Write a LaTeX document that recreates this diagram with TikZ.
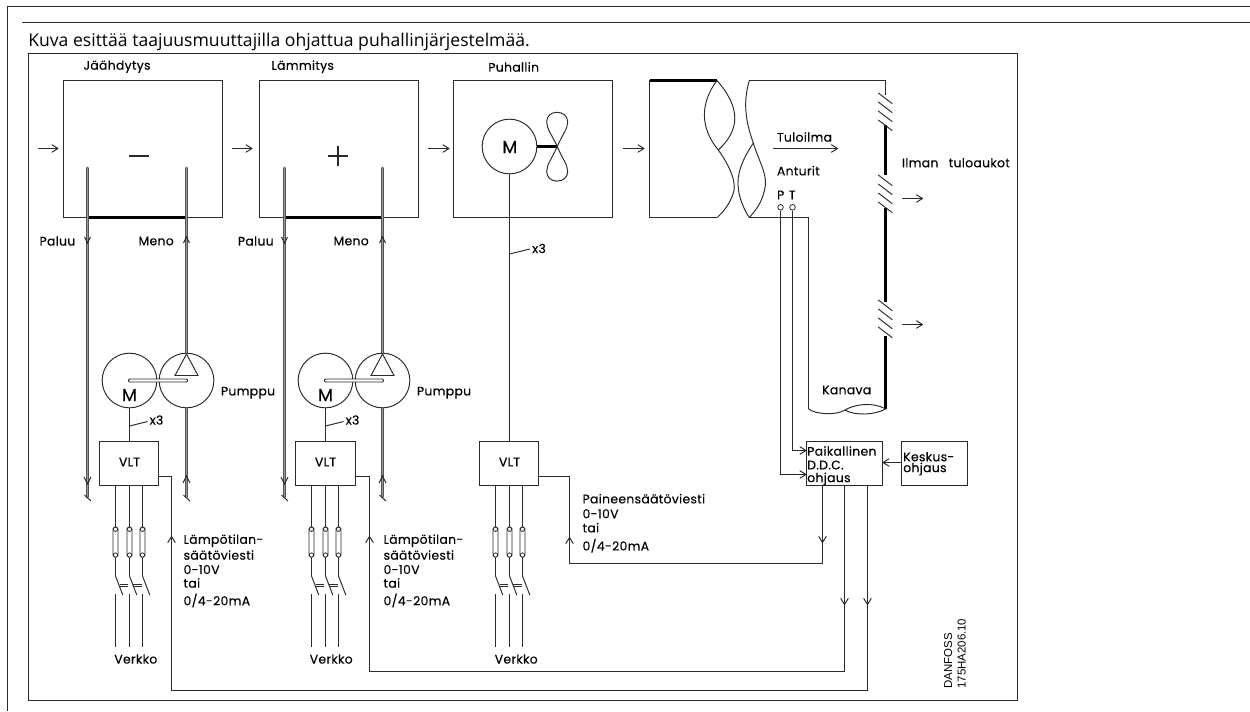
\documentclass[tikz,border=0pt]{standalone}
\usepackage{fontspec}
\setmainfont[FakeBold=0.25,LetterSpace=2.5]{Poppins}
\newfontfamily\titlefont{Open Sans}
\newfontfamily\markfont{Liberation Sans}
\usetikzlibrary{arrows.meta,calc}
\definecolor{ink}{HTML}{2A2A2A}
\tikzset{
  x=0.75pt,y=-0.75pt,
  ln/.style={draw=ink,line width=0.72pt},
  thin line/.style={draw=ink,line width=0.6pt},
  heavy/.style={draw=black,line width=1.6pt},
  pipe/.style={draw=black!68,double=black!40,double distance=0.75pt,line width=0.72pt,line cap=round},
  arr/.style={ln,-{Straight Barb[length=4.5pt,width=5.5pt,round]}},
  box/.style n args={2}{draw=ink,line width=0.72pt,fill=white,inner sep=0pt,minimum width=#1*0.75pt,minimum height=#2*0.75pt,outer sep=0pt},
  txt/.style={inner sep=0pt,font=\fontsize{9.3pt}{10pt}\selectfont,anchor=west},
  ctxt/.style={inner sep=0pt,font=\fontsize{9.3pt}{10pt}\selectfont},
  bigM/.style={inner sep=0pt,font=\fontsize{13pt}{13pt}\selectfont},
  motor/.style={circle,draw=ink,line width=0.72pt,inner sep=0pt,minimum size=41pt},
  sens/.style={circle,draw=ink,line width=0.6pt,fill=white,inner sep=0pt,minimum size=4.2pt},
}
\begin{document}
\begin{tikzpicture}
\useasboundingbox (0,0) rectangle (1250,711);
% page rules
\coordinate (pgTL) at (7.5,6.5); \coordinate (pgTR) at (1250,6.5); \coordinate (pgBL) at (7.5,711);
\coordinate (ruleL) at (22,22.5); \coordinate (ruleR) at (1250,22.5);
\draw[ln] (pgBL) -- (pgTL) -- (pgTR);
\draw[ln] (ruleL) -- (ruleR);
\node[anchor=base west,inner sep=0pt,font=\titlefont\fontsize{13.2pt}{14pt}\selectfont] (title) at (28,46.5) {Kuva esittää taajuusmuuttajilla ohjattua puhallinjärjestelmää.};
% frame
\node[box={989}{647},anchor=north west,fill=none] (frame) at (28.5,53.5) {};

% unit boxes
\node[box={159}{137},anchor=north west] (cool) at (63.5,80.5) {};
\node[box={159}{137},anchor=north west] (heat) at (259.5,80.5) {};
\node[box={159}{137},anchor=north west] (fanbox) at (453.5,80.5) {};
\node[ctxt] (tcool) at (117,66.7) {Jäähdytys};
\node[ctxt] (theat) at (302.7,66.7) {Lämmitys};
\node[ctxt] (tfan) at (513.7,67) {Puhallin};
\draw[heavy] (87.5,217.5) -- (186.5,217.5);
\draw[heavy] (284.5,217.5) -- (382.5,217.5);
% air arrows
\foreach \n/\xa/\xb in {a/38/58.5,b/231.5/252.5,c/428/449.5,d/623/644.5}{
  \coordinate (air\n s) at (\xa,148.5); \coordinate (air\n e) at (\xb,148.5);
  \draw[arr] (air\n s) -- (air\n e);
}
% minus, plus
\coordinate (minA) at (129.3,155.5); \coordinate (minB) at (149,155.5);
\draw[ln,line width=1.5pt] (minA) -- (minB);
\coordinate (plC) at (337.5,155.5);
\draw[ln,line width=1.5pt] ($(plC)+(-10,0)$) -- ($(plC)+(10,0)$) ($(plC)+(0,-10)$) -- ($(plC)+(0,10)$);

% pump groups
\foreach \g/\mx/\pmx/\plx/\ptl/\mtl/\vx/\vw in {1/129.5/186.5/87.5/39.3/138.3/99.5/59,2/325.5/382.5/284.5/237.7/333.3/295.5/60}{
    \node[motor] (mot\g) at (\mx,380.5) {};
    \node[motor] (pump\g) at (\pmx,380.5) {};
    \node[bigM] (mlab\g) at (\mx,395) {M};
    \coordinate (tri1\g) at (\pmx,354); \coordinate (tri2\g) at (\pmx-11.5,375.5); \coordinate (tri3\g) at (\pmx+11.5,375.5);
    \draw[ln] (tri1\g) -- (tri2\g) -- (tri3\g) -- cycle;
    \coordinate (shA\g) at (\mx-1,379); \coordinate (shB\g) at (\pmx+1,382);
    \draw[ln,rounded corners=0.8pt,fill=white] (shA\g) rectangle (shB\g);
    \node[box={\vw}{44},anchor=north west] (vlt\g) at (\vx,441.5) {};
    \node[ctxt] (vltl\g) at (\mx,462) {VLT};
    \draw[ln] (mot\g.south) -- (vlt\g.north-|mot\g.south);
    \coordinate (t\g) at (\mx,426); \coordinate (tt\g) at (\mx+18,421.5);
    \draw[ln] (t\g) -- (tt\g);
    \node[ctxt,anchor=west] (xt\g) at ($(tt\g)+(2,-1.5)$) {x3};
    \node[txt] (ppl\g) at (\mx+91.2,392.7) {Pumppu};
    % pipes
    \coordinate (ptop\g) at (\plx,168); \coordinate (pbot\g) at (\plx,497);
    \coordinate (mtop\g) at (\pmx,168); \coordinate (mbot\g) at (\pmx,497);
    \draw[pipe] (ptop\g) -- (pbot\g);
    \draw[pipe] (mtop\g) -- (pump\g.north);
    \draw[pipe] (pump\g.south) -- (mbot\g);
    \draw[ln] (\plx-3,237) -- (\plx,243) -- (\plx+3,237);
    \draw[ln] (\pmx-3,243) -- (\pmx,237) -- (\pmx+3,243);
    \draw[ln] (\plx-3.5,477) -- (\plx,484) -- (\plx+3.5,477);
    \draw[ln] (\pmx-3.5,483) -- (\pmx,476) -- (\pmx+3.5,483);
    \draw[ln] (\plx-3,495) -- (\plx+3.5,501);
    \draw[ln] (\pmx-3,495) -- (\pmx+3.5,501);
    \node[txt] (pal\g) at (\ptl,241) {Paluu};
    \node[txt] (men\g) at (\mtl,241) {Meno};
}

% fan
\node[motor] (fanm) at (509.5,146.5) {};
\node[bigM] (fanml) at (509.8,147) {M};
\coordinate (hub) at (557.3,146.5);
\draw[heavy] (fanm.east) -- (hub);
\draw[ln] (hub) .. controls (552,135) and (546.7,129) .. (546.7,122) .. controls (546.7,116) and (551,112.3) .. (557,112.3) .. controls (563,112.3) and (567.7,116) .. (567.7,122) .. controls (567.7,129) and (562,135) .. (hub);
\draw[ln] (hub) .. controls (552,158.4) and (546.7,164.4) .. (546.7,171.4) .. controls (546.7,177.4) and (551,181.1) .. (557,181.1) .. controls (563,181.1) and (567.7,177.4) .. (567.7,171.4) .. controls (567.7,164.4) and (562,158.4) .. (hub);
\node[box={59}{44},anchor=north west] (vlt3) at (479.5,441.5) {};
\node[ctxt] (vltl3) at (509.5,462) {VLT};
\draw[ln] (fanm.south) -- (vlt3.north-|fanm.south);
\coordinate (t3) at (509.5,254); \coordinate (tt3) at (530,249);
\draw[ln] (t3) -- (tt3);
\node[ctxt,anchor=west] (xt3) at (532,248.5) {x3};

% fuses, switches, mains
\foreach \g/\xa/\xb/\xc in {1/115.5/129.5/142.5,2/311.5/325.5/338.5,3/495.5/509.5/522.5}{
  \foreach \k/\xx in {0/\xa,1/\xb,2/\xc}{
    \coordinate (fa\g\k) at (\xx,485.5); \coordinate (fb\g\k) at (\xx,576); \coordinate (fc\g\k) at (\xx+7.3,595);
    \coordinate (fd\g\k) at (\xx,594); \coordinate (fe\g\k) at (\xx,646.7);
    \draw[ln] (fa\g\k) -- (fb\g\k) -- (fc\g\k);
    \draw[ln] (fd\g\k) -- (fe\g\k);
    \draw[thin line,fill=white,rounded corners=1.2pt] (\xx-2.5,527) rectangle (\xx+2.5,557);
    \node[sens,minimum size=3.2pt] at (\xx,529.3) {};
    \node[sens,minimum size=3.2pt] at (\xx,555) {};
  }
  \foreach \d in {4.2,17.9}{
    \draw[thin line] (\xa+\d,584.5) -- (\xa+\d+8.5,584.5) (\xa+\d,586.5) -- (\xa+\d+8.5,586.5);
  }
}
\node[ctxt] (verk1) at (135.8,659) {Verkko};
\node[ctxt] (verk2) at (331.2,659) {Verkko};
\node[ctxt] (verk3) at (516.2,659) {Verkko};

% duct
\coordinate (dA) at (649.5,80.5); \coordinate (dB) at (717,80.5); \coordinate (dC) at (717.3,217.5); \coordinate (dD) at (649.5,217.5);
\coordinate (dX) at (718.3,150);
\draw[ln] (dB) -- (dA) -- (dD) -- (dC);
\draw[heavy] (dA) -- (dB);
\draw[ln] (dB) .. controls (700,103) and (700,128) .. (dX);
\draw[ln] (dB) .. controls (741,108) and (740,130) .. (dX);
\draw[ln] (dX) .. controls (729,165) and (738,183) .. (732.7,195) .. controls (729,205) and (723,212) .. (dC);
\coordinate (eA) at (749.3,80.5); \coordinate (eX) at (753.3,143); \coordinate (eB) at (749.3,217.5);
\draw[ln] (eA) .. controls (742,105) and (747,125) .. (eX) .. controls (760,165) and (769,175) .. (764,192) .. controls (761,204) and (755,211) .. (eB);
\draw[ln] (eX) .. controls (742,160) and (736,175) .. (738.5,190) .. controls (740,201) and (745,211) .. (eB);
\coordinate (wTop) at (885.5,80.5); \coordinate (wB1) at (885.5,95);
\coordinate (ductIn) at (808.5,217.5); \coordinate (ductLow) at (808.5,409);
\draw[ln] (eA) -- (wTop) -- (wB1);
\draw[ln] (eB) -- (ductIn);
\draw[ln,line width=0.9pt] (ductIn) -- (ductLow);
\draw[heavy] (885.5,125) -- (885.5,175);
\draw[heavy] (885.5,208) -- (885.5,302);
\draw[heavy] (885.5,336) -- (885.5,409);
\foreach \yy in {93,175,300}{
  \foreach \k in {0,1,2,3}{
    \draw[ln] (878.3,\yy+9*\k) -- (892.3,\yy+9*\k+10.7);
  }
}
% Kanava break
\coordinate (kL) at (808.5,409); \coordinate (kM) at (845,410); \coordinate (kR) at (885.5,409);
\draw[ln] (kL) .. controls (815,414) and (835,416) .. (kM) .. controls (853,405) and (872,401) .. (kR);
\draw[ln] (kM) .. controls (855,416) and (875,415) .. (kR);
\node[ctxt] (kan) at (846.7,390) {Kanava};
% labels
\coordinate (supS) at (773,148.5); \coordinate (supE) at (838,148.5);
\draw[arr] (supS) -- (supE);
\node[txt] (ttu) at (776.7,137) {Tuloilma};
\node[txt] (tan) at (776.7,170.7) {Anturit};
\node[ctxt] (tP) at (780.7,195) {P};
\node[ctxt] (tT) at (792.3,195) {T};
\node[txt] (til) at (901.7,162.7) {Ilman};
\node[txt] (til2) at (948.5,162.7) {tuloaukot};
\coordinate (outAs) at (902.3,198.5); \coordinate (outAe) at (923,198.5);
\coordinate (outBs) at (902.3,324.5); \coordinate (outBe) at (923,324.5);
\draw[arr] (outAs) -- (outAe);
\draw[arr] (outBs) -- (outBe);
\node[sens] (sP) at (780.5,207.3) {};
\node[sens] (sT) at (792.5,207.3) {};

% controllers
\node[box={76}{44},anchor=north west] (ddc) at (806.5,441.5) {};
\node[box={66}{44},anchor=north west] (kes) at (901.5,441.5) {};
\node[txt] (d1) at (807,451) {Paikallinen};
\node[txt] (d2) at (807,465) {D.D.C.};
\node[txt] (d3) at (807,479) {ohjaus};
\node[txt] (k1) at (903,456.7) {Keskus-};
\node[txt] (k2) at (903,469) {ohjaus};
\draw[arr] (kes.west|-0,462.5) -- (ddc.east|-0,462.5);
\draw[arr] (sP.south) -- (sP.south|-0,474.5) -- (ddc.west|-0,474.5);
\draw[arr] (sT.south) -- (sT.south|-0,450.5) -- (ddc.west|-0,450.5);

% control signals
\coordinate (s1d) at (867.5,605); \coordinate (s1b) at (867.5,690.5); \coordinate (s1c) at (171.5,690.5); \coordinate (s1u) at (171.5,536); \coordinate (s1v) at (171.5,476.5);
\draw[arr] (ddc.south-|s1d) -- (s1d);
\draw[arr] (s1d) -- (s1b) -- (s1c) -- (s1u);
\draw[ln] (s1u) -- (s1v) -- (vlt1.east|-s1v);
\coordinate (s2d) at (844.5,605); \coordinate (s2b) at (844.5,671.5); \coordinate (s2c) at (369.5,671.5); \coordinate (s2u) at (369.5,536); \coordinate (s2v) at (369.5,476.5);
\draw[arr] (ddc.south-|s2d) -- (s2d);
\draw[arr] (s2d) -- (s2b) -- (s2c) -- (s2u);
\draw[ln] (s2u) -- (s2v) -- (vlt2.east|-s2v);
\coordinate (s3d) at (822.5,543); \coordinate (s3b) at (822.5,563.5); \coordinate (s3c) at (569.5,563.5); \coordinate (s3u) at (569.5,537); \coordinate (s3v) at (569.5,476.5);
\draw[arr] (ddc.south-|s3d) -- (s3d);
\draw[arr] (s3d) -- (s3b) -- (s3c) -- (s3u);
\draw[ln] (s3u) -- (s3v) -- (vlt3.east|-s3v);

% signal texts
\foreach \n/\xx in {a/183.3,b/383.3}{
  \node[txt] (l1\n) at (\xx,540.7) {Lämpötilan-};
  \node[txt] (l2\n) at (\xx,555) {säätöviesti};
  \node[txt] (l3\n) at (\xx,569.5) {0-10V};
  \node[txt] (l4\n) at (\xx,583) {tai};
  \node[txt] (l5\n) at (\xx,600.5) {0/4-20mA};
}
\node[txt] (p1) at (582.3,498.7) {Paineensäätöviesti};
\node[txt] (p2) at (582.3,513.7) {0-10V};
\node[txt] (p3) at (582.3,527.7) {tai};
\node[txt] (p4) at (582.3,545.7) {0/4-20mA};
% drawing number
\node[anchor=base west,rotate=90,inner sep=0pt,font=\markfont\fontsize{8.6pt}{10pt}\selectfont] (dan) at (952,689) {DANFOSS};
\node[anchor=base west,rotate=90,inner sep=0pt,font=\markfont\fontsize{8.6pt}{10pt}\selectfont] (num) at (965.5,689) {175HA206.10};
\end{tikzpicture}
\end{document}
